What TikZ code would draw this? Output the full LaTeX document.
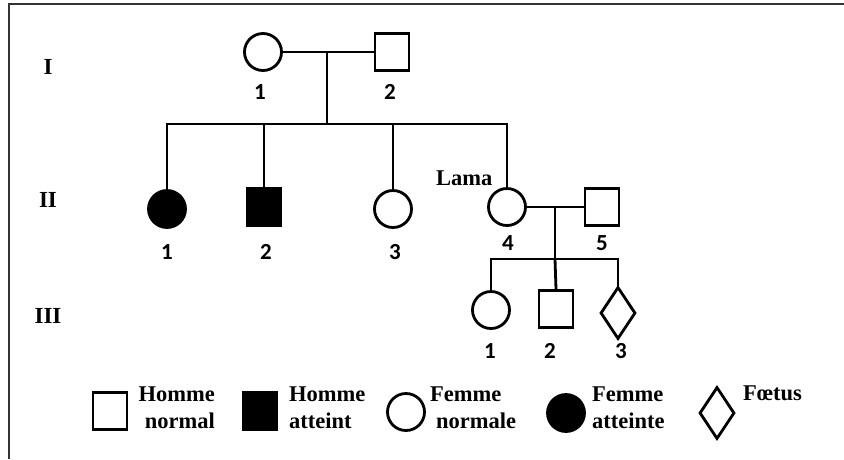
\documentclass[tikz,border=0pt]{standalone}
\usepackage{fontspec}
\setmainfont{Liberation Serif}
\newfontfamily\numfont{Carlito}
\usetikzlibrary{shapes.geometric}
\begin{document}
\begin{tikzpicture}[x=1pt,y=-1pt,
  ln/.style={line width=2.8pt},
  male/.style={draw,ln,rectangle,minimum width=34pt,minimum height=37pt,inner sep=0pt},
  female/.style={draw,ln,circle,minimum size=37pt,inner sep=0pt},
  fetus/.style={draw,ln,diamond,minimum width=35pt,minimum height=52pt,inner sep=0pt},
  aff/.style={fill=black},
  lbl/.style={font=\fontsize{22.5}{26}\bfseries\selectfont,inner sep=0pt},
  num/.style={font=\fontsize{23}{26}\numfont\bfseries\selectfont,inner sep=0pt,anchor=base},
  gen/.style={font=\fontsize{23}{26}\bfseries\selectfont,inner sep=0pt,anchor=base}]
\useasboundingbox (0,0) rectangle (844,459);
\fill[white] (0,0) rectangle (844,459);
\draw[line width=1.8pt,black!80] (9,459) -- (9,4) -- (844,4);

% generation labels
\node[gen] (gI) at (48,74) {I};
\node[gen] (gII) at (48,207) {II};
\node[gen] (gIII) at (48,323) {III};

% generation I
\node[female] (I1) at (263,52) {};
\node[male] (I2) at (392,52) {};
\node[num] (nI1) at (260,99) {1};
\node[num] (nI2) at (390,99) {2};

% generation II
\node[female,aff] (II1) at (167,209) {};
\node[male,aff] (II2) at (264,207) {};
\node[female] (II3) at (393,209) {};
\node[female] (II4) at (507,207) {};
\node[male] (II5) at (602,207) {};
\node[num] (nII1) at (167,259) {1};
\node[num] (nII2) at (266,259) {2};
\node[num] (nII3) at (395,259) {3};
\node[num] (nII4) at (508,250) {4};
\node[num] (nII5) at (602,250) {5};
\node[lbl,anchor=base west] (lama) at (436,185) {Lama};

% generation III
\node[female] (III1) at (491,310) {};
\node[male] (III2) at (556,309) {};
\node[fetus] (III3) at (618,313) {};
\node[num] (nIII1) at (490,358) {1};
\node[num] (nIII2) at (550,358) {2};
\node[num] (nIII3) at (621,358) {3};

% connectors generation I -> II
\coordinate (m1) at (327,52);
\coordinate (s1) at (327,124);
\coordinate (c1) at (167,124);
\coordinate (c2) at (264,124);
\coordinate (c3) at (393,124);
\coordinate (c4) at (507,124);
\draw[ln] (I1.east) -- (I2.west);
\draw[ln] (m1) -- (s1);
\draw[ln,line join=miter] (II1.north) -- (c1) -- (c4) -- (II4.north);
\draw[ln] (c2) -- (II2.north);
\draw[ln] (c3) -- (II3.north);

% connectors generation II -> III
\coordinate (m2) at (555,207);
\coordinate (s2) at (555,259);
\coordinate (d1) at (491,259);
\coordinate (d3) at (618,259);
\draw[ln] (II4.east) -- (II5.west);
\draw[ln] (m2) -- (s2);
\draw[ln,line join=miter] (III1.north) -- (d1) -- (d3) -- (III3.north);
\draw[ln] (s2) -- (III2.north);

% legend
\node[male] (L1) at (110,411) {};
\node[lbl,anchor=base east] (L1a) at (215,401) {Homme};
\node[lbl,anchor=base east] (L1b) at (215,428) {normal};
\node[male,aff] (L2) at (260,411) {};
\node[lbl,anchor=base west] (L2a) at (289,401) {Homme};
\node[lbl,anchor=base west] (L2b) at (289,428) {atteint};
\node[female] (L3) at (406,412) {};
\node[lbl,anchor=base west] (L3a) at (430,401) {Femme};
\node[lbl,anchor=base west] (L3b) at (436,428) {normale};
\node[female,aff] (L4) at (566,413) {};
\node[lbl,anchor=base west] (L4a) at (592,401) {Femme};
\node[lbl,anchor=base west] (L4b) at (592,428) {atteinte};
\node[fetus] (L5) at (717,413) {};
\node[lbl,anchor=base west] (L5a) at (743,400) {Fœtus};
\end{tikzpicture}
\end{document}
